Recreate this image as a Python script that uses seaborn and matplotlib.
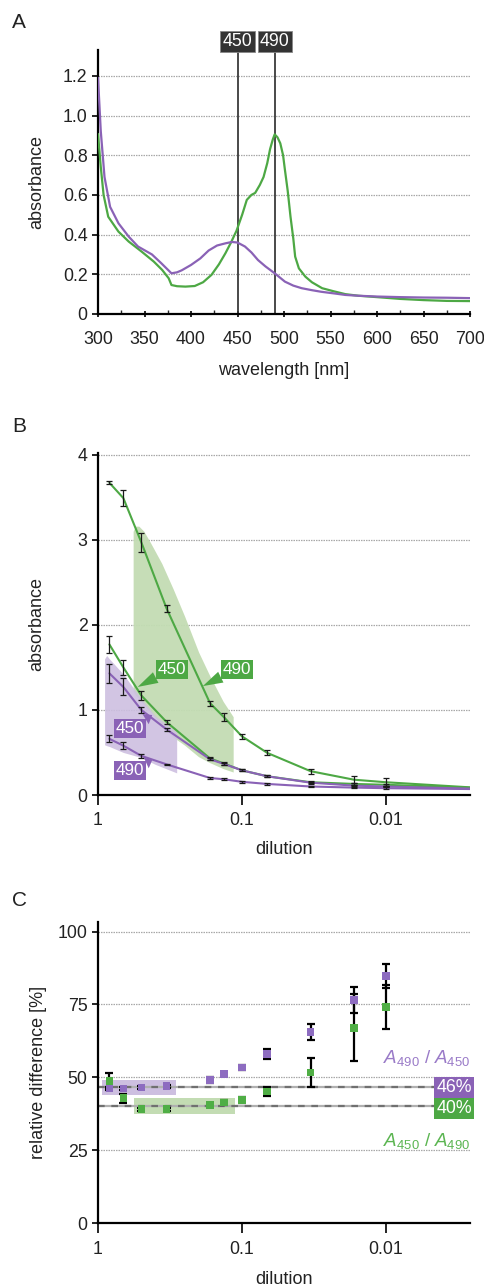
import numpy as np
import pandas as pd
import matplotlib
matplotlib.use("Agg")
import matplotlib.pyplot as plt
import matplotlib.transforms as mtransforms
import seaborn as sns

sns.set_style("ticks")
plt.rcParams['font.family'] = ['Liberation Sans', 'DejaVu Sans']
plt.rcParams['mathtext.fontset'] = 'custom'
plt.rcParams['mathtext.it'] = 'Liberation Sans:italic'
plt.rcParams['mathtext.rm'] = 'Liberation Sans'

GREEN = '#4da844'
PURPLE = '#8a62b6'
GREEN_BAND = '#c3dcb3'
PURPLE_BAND = '#cdbfe0'
TXT = '#222222'

# ---------------- Panel A data: absorbance spectra ----------------
wl_purple = [300, 303, 307, 313, 322, 333, 343, 358, 368, 379, 385, 390, 400, 410,
             419, 428, 437, 444, 450, 458, 465, 472, 480, 490, 501, 510, 519, 530,
             540, 555, 566, 580, 600, 625, 650, 675, 700]
abs_purple = [1.19, 0.92, 0.69, 0.54, 0.457, 0.39, 0.34, 0.30, 0.256, 0.205, 0.21,
              0.22, 0.247, 0.28, 0.32, 0.345, 0.356, 0.363, 0.36, 0.34, 0.31, 0.272,
              0.24, 0.205, 0.163, 0.143, 0.13, 0.12, 0.112, 0.103, 0.096, 0.092,
              0.088, 0.085, 0.083, 0.082, 0.08]
wl_green = [300, 303, 306, 311, 322, 333, 347, 360, 369, 376, 379, 385, 394, 404,
            413, 422, 430, 437, 443, 449, 455, 460, 465, 469, 474, 478, 482, 485,
            488, 490, 493, 496, 499, 501, 504, 507, 510, 512, 516, 523, 530, 541,
            553, 566, 580, 600, 625, 650, 675, 700]
abs_green = [0.907, 0.74, 0.60, 0.49, 0.415, 0.365, 0.314, 0.264, 0.222, 0.18,
             0.146, 0.14, 0.138, 0.141, 0.16, 0.197, 0.25, 0.306, 0.36, 0.42, 0.50,
             0.575, 0.60, 0.61, 0.65, 0.69, 0.76, 0.83, 0.88, 0.905, 0.89, 0.86,
             0.80, 0.726, 0.62, 0.49, 0.38, 0.289, 0.23, 0.188, 0.16, 0.13, 0.115,
             0.10, 0.092, 0.085, 0.076, 0.07, 0.066, 0.065]
marker_wl = [450, 490]

# ---------------- Panel B data: dilution series ----------------
dilution = [1/1.2, 1/1.5, 1/2, 1/3, 1/6, 1/7.5, 1/10, 1/15, 1/30, 1/60, 1/100]
green490 = [3.67, 3.49, 2.97, 2.19, 1.08, 0.915, 0.69, 0.495, 0.28, 0.18, 0.15]
green490_err = [0.02, 0.09, 0.11, 0.04, 0.03, 0.05, 0.03, 0.03, 0.03, 0.04, 0.05]
green450 = [1.77, 1.50, 1.17, 0.857, 0.43, 0.37, 0.29, 0.22, 0.15, 0.13, 0.12]
green450_err = [0.10, 0.09, 0.05, 0.02, 0.02, 0.02, 0.01, 0.01, 0.01, 0.01, 0.01]
purple450 = [1.43, 1.27, 1.00, 0.77, 0.42, 0.365, 0.29, 0.22, 0.145, 0.11, 0.10]
purple450_err = [0.11, 0.10, 0.04, 0.02, 0.01, 0.01, 0.01, 0.01, 0.01, 0.01, 0.01]
purple490 = [0.66, 0.58, 0.46, 0.36, 0.20, 0.185, 0.155, 0.13, 0.10, 0.087, 0.08]
purple490_err = [0.04, 0.04, 0.02, 0.01, 0.01, 0.01, 0.01, 0.01, 0.01, 0.01, 0.01]
# fitted curves continue to the right edge
tail_dilution = 0.0026
tail_green490, tail_green450, tail_purple450, tail_purple490 = 0.09, 0.085, 0.075, 0.07

green_band_x = [0.57, 0.55, 0.52, 0.48, 0.43, 0.36, 0.30, 0.25, 0.20, 0.167, 0.135, 0.115]
green_band_hi = [3.10, 3.16, 3.16, 3.10, 2.96, 2.72, 2.42, 2.10, 1.68, 1.40, 1.10, 0.92]
green_band_lo = [1.22, 1.18, 1.13, 1.06, 0.97, 0.82, 0.68, 0.585, 0.45, 0.38, 0.31, 0.27]
purple_band_x = [0.9, 0.87, 0.833, 0.667, 0.5, 0.4, 0.284]
purple_band_hi = [1.60, 1.64, 1.60, 1.42, 1.13, 0.93, 0.74]
purple_band_lo = [0.59, 0.58, 0.57, 0.50, 0.44, 0.36, 0.26]

# ---------------- Panel C data: relative difference ----------------
rel_purple = [46.2, 46.2, 46.5, 47.0, 49.1, 51.1, 53.3, 58.0, 65.6, 76.5, 84.8]
rel_purple_err = [0.5, 0.5, 0.5, 0.5, 1.1, 0.5, 0.9, 1.7, 2.8, 4.5, 4.2]
rel_green = [48.8, 42.8, 39.1, 39.1, 40.5, 41.3, 42.2, 45.1, 51.7, 67.0, 74.2]
rel_green_err = [2.6, 1.6, 0.5, 0.5, 0.5, 0.8, 1.0, 1.5, 5.0, 11.5, 7.5]
mean_purple, mean_green = 46.6, 40.2
purple_rect_x, purple_rect_y = [0.94, 0.288], [43.8, 49.1]
green_rect_x, green_rect_y = [0.562, 0.112], [37.4, 42.8]

# ---------------- figure ----------------
fig = plt.figure(figsize=(4.84, 12.87), dpi=100)
W, H = 484, 1287

def add_axes(left, right, top, bottom):
    return fig.add_axes([left / W, 1 - bottom / H, (right - left) / W, (bottom - top) / H])

axA = add_axes(98, 470, 50, 314)
axB = add_axes(98, 470, 453, 795)
axC = add_axes(98, 470, 922, 1223)

def style_axis(ax):
    for s in ['top', 'right']:
        ax.spines[s].set_visible(False)
    for s in ['left', 'bottom']:
        ax.spines[s].set_linewidth(1.6)
        ax.spines[s].set_color('black')
    ax.tick_params(axis='both', labelsize=12.8, colors='black', width=1.2, length=4,
                   labelcolor=TXT)

def hgrid(ax, vals):
    for v in vals:
        if v > 0:
            ax.axhline(v, color='#a8a8a8', lw=0.9, ls=(0, (1.2, 0.8)), zorder=0.5)

# ---- Panel A ----
style_axis(axA)
dfA_p = pd.DataFrame({'wl': wl_purple, 'a': abs_purple})
dfA_g = pd.DataFrame({'wl': wl_green, 'a': abs_green})
yA = [0, 0.2, 0.4, 0.6, 0.8, 1.0, 1.2]
hgrid(axA, yA)
for w in marker_wl:
    axA.axvline(w, color='#3a3a3a', lw=1.3, zorder=1, ymax=1.0)
sns.lineplot(data=dfA_g, x='wl', y='a', color=GREEN, lw=1.6, ax=axA, zorder=3)
sns.lineplot(data=dfA_p, x='wl', y='a', color=PURPLE, lw=1.6, ax=axA, zorder=4)
axA.set_xlim(300, 700)
axA.set_ylim(0, 1.33)
axA.set_xticks(range(300, 701, 50))
axA.set_xticks(range(325, 700, 50), minor=True)
axA.tick_params(axis='x', which='minor', length=3, width=1.0, direction='in')
axA.tick_params(axis='x', which='major', length=5, direction='inout', pad=10)
axA.set_yticks(yA)
axA.set_yticklabels(['0', '0.2', '0.4', '0.6', '0.8', '1.0', '1.2'])
axA.set_xlabel('wavelength [nm]', fontsize=13, color=TXT, labelpad=10)
axA.set_ylabel('absorbance', fontsize=13, color=TXT, labelpad=13)
for w in marker_wl:
    axA.text(w, 1.33, str(w), ha='center', va='bottom', fontsize=12.8, color='white',
             bbox=dict(boxstyle='square,pad=0.12', fc='#333333', ec='#888888', lw=0.6),
             zorder=6, clip_on=False)

# ---- Panel B ----
style_axis(axB)
yB = [0, 1, 2, 3, 4]
hgrid(axB, yB)
axB.set_xscale('log')
axB.fill_between(green_band_x, green_band_lo, green_band_hi, color=GREEN_BAND,
                 alpha=0.95, lw=0, zorder=1)
axB.fill_between(purple_band_x, purple_band_lo, purple_band_hi, color=PURPLE_BAND,
                 alpha=0.9, lw=0, zorder=1.2)
series = [(green490, green490_err, tail_green490, GREEN),
          (green450, green450_err, tail_green450, GREEN),
          (purple450, purple450_err, tail_purple450, PURPLE),
          (purple490, purple490_err, tail_purple490, PURPLE)]
for vals, errs, tail, col in series:
    df = pd.DataFrame({'d': dilution + [tail_dilution], 'a': vals + [tail]})
    sns.lineplot(data=df, x='d', y='a', color=col, lw=1.5, ax=axB, zorder=3)
for vals, errs, tail, col in series:
    axB.errorbar(dilution, vals, yerr=errs, fmt='none', ecolor='#1a1a1a',
                 elinewidth=0.9, capsize=2.5, capthick=0.9, zorder=4)
axB.set_xlim(1, tail_dilution)
axB.set_ylim(0, 4.02)
axB.set_xticks([1, 0.1, 0.01])
axB.set_xticklabels(['1', '0.1', '0.01'])
axB.xaxis.set_minor_locator(matplotlib.ticker.NullLocator())
axB.tick_params(axis='x', length=7, pad=5)
axB.set_yticks(yB)
axB.set_xlabel('dilution', fontsize=13, color=TXT, labelpad=9)
axB.set_ylabel('absorbance', fontsize=13, color=TXT, labelpad=23)

def tag(ax, text, xy, xytext, col):
    ax.annotate(text, xy=xy, xytext=xytext, ha='center', va='center', fontsize=12.3,
                color='white', zorder=7,
                bbox=dict(boxstyle='square,pad=0.12', fc=col, ec='none'),
                arrowprops=dict(arrowstyle='wedge,tail_width=0.7,shrink_factor=0.5',
                                fc=col, ec='none', shrinkA=0, shrinkB=0))

tag(axB, '450', (0.53, 1.27), (0.306, 1.48), GREEN)
tag(axB, '490', (0.187, 1.28), (0.108, 1.48), GREEN)
tag(axB, '450', (0.42, 0.94), (0.6, 0.78), PURPLE)
tag(axB, '490', (0.42, 0.41), (0.6, 0.29), PURPLE)

# ---- Panel C ----
style_axis(axC)
yC = [0, 25, 50, 75, 100]
hgrid(axC, yC)
axC.set_xscale('log')
axC.fill_between(purple_rect_x, purple_rect_y[0], purple_rect_y[1], color=PURPLE_BAND,
                 lw=0, zorder=1)
axC.fill_between(green_rect_x, green_rect_y[0], green_rect_y[1], color=GREEN_BAND,
                 lw=0, zorder=1)
for m in [mean_purple, mean_green]:
    axC.axhline(m, color='#b0b0b0', lw=1.6, zorder=1.5)
    axC.axhline(m, color='#707070', lw=1.6, ls=(0, (3, 3)), zorder=1.6)
axC.errorbar(dilution, rel_purple, yerr=rel_purple_err, fmt='none', ecolor='black',
             elinewidth=1.6, capsize=3, capthick=1.6, zorder=3)
axC.errorbar(dilution, rel_green, yerr=rel_green_err, fmt='none', ecolor='black',
             elinewidth=1.6, capsize=3, capthick=1.6, zorder=3)
dfC = pd.DataFrame({'d': dilution * 2, 'v': rel_purple + rel_green,
                    'ratio': ['p'] * len(dilution) + ['g'] * len(dilution)})
sns.scatterplot(data=dfC, x='d', y='v', hue='ratio', palette={'p': '#8d6cc0', 'g': '#4fae45'},
                marker='s', s=30, edgecolor='none', legend=False, ax=axC, zorder=4)
axC.set_xlim(1, tail_dilution)
axC.set_ylim(0, 103.3)
axC.set_xticks([1, 0.1, 0.01])
axC.set_xticklabels(['1', '0.1', '0.01'])
axC.xaxis.set_minor_locator(matplotlib.ticker.NullLocator())
axC.tick_params(axis='x', length=7, pad=6)
axC.set_yticks(yC)
axC.set_xlabel('dilution', fontsize=13, color=TXT, labelpad=9)
axC.set_ylabel('relative difference [%]', fontsize=13, color=TXT, labelpad=8)
trC = mtransforms.blended_transform_factory(axC.transAxes, axC.transData)
axC.text(1.005, mean_purple, '46%', transform=trC, ha='right', va='center', fontsize=12.8,
         color='white', bbox=dict(boxstyle='square,pad=0.12', fc=PURPLE, ec='none'),
         zorder=6, clip_on=False)
axC.text(1.005, mean_green - 0.8, '40%', transform=trC, ha='right', va='center', fontsize=12.8,
         color='white', bbox=dict(boxstyle='square,pad=0.12', fc=GREEN, ec='none'),
         zorder=6, clip_on=False)
axC.text(1.0, 56.5, r'$A_{490}$ / $A_{450}$', transform=trC, ha='right', va='center',
         fontsize=13.5, color='#9a7bc8', zorder=6)
axC.text(1.0, 28.0, r'$A_{450}$ / $A_{490}$', transform=trC, ha='right', va='center',
         fontsize=13.5, color='#5cb552', zorder=6)

# panel letters
for letter, y in [('A', 22), ('B', 426), ('C', 901)]:
    fig.text(12 / W, 1 - y / H, letter, fontsize=15, color=TXT, ha='left', va='center')

fig.savefig('out.png', dpi=100)
